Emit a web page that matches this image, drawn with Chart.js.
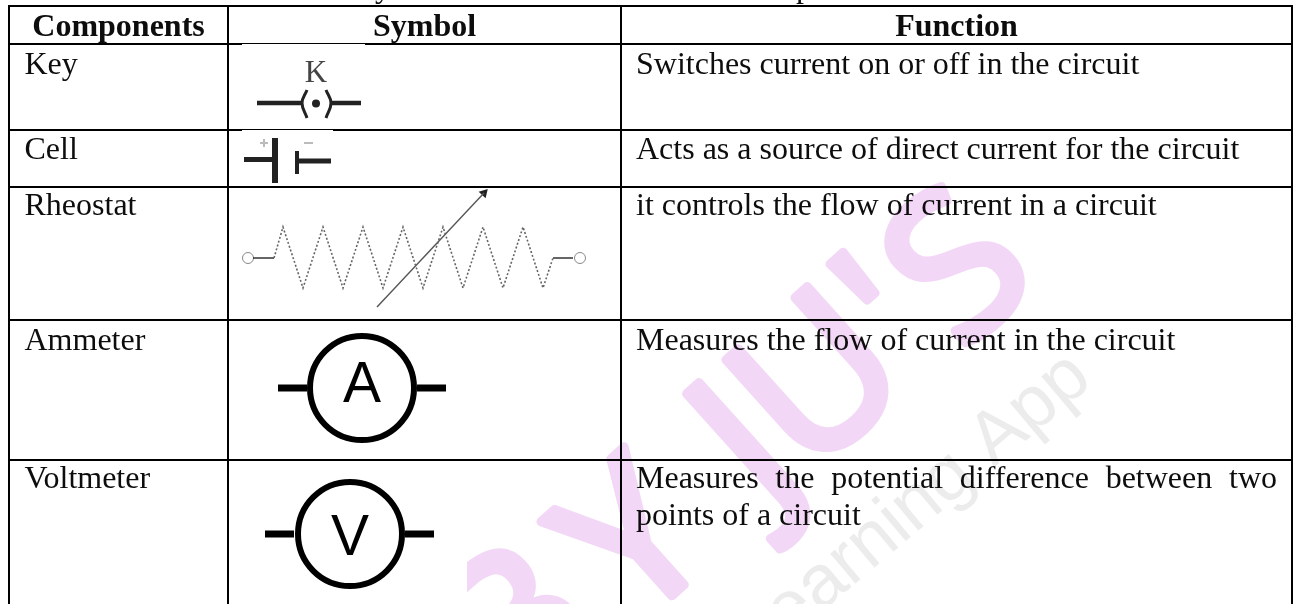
<!DOCTYPE html>
<html>
<head>
<meta charset="utf-8">
<style>
  html, body { margin: 0; padding: 0; background: #fff; overflow: hidden; }
  canvas { display: block; }
</style>
<script src="https://cdn.jsdelivr.net/npm/chart.js@4/dist/chart.umd.min.js"></script>
</head>
<body>
<canvas id="table" width="1293" height="604"></canvas>
<script>
const headers = ["Components", "Symbol", "Function"];
const components = ["Key", "Cell", "Rheostat", "Ammeter", "Voltmeter"];
const functions = [
  ["Switches current on or off in the circuit"],
  ["Acts as a source of direct current for the circuit"],
  ["it controls the flow of current in a circuit"],
  ["Measures the flow of current in the circuit"],
  ["Measures the potential difference between two", "points of a circuit"],
];
const columnEdges = [9, 228, 621, 1292];
const rowEdges = [6, 44, 130, 187, 320, 460];
const rowBaselines = [74, 159, 215, 350, 488];
const lineGap = 37;

// symbols, in table units
const keyWires = [[[257, 103], [302, 103]], [[332, 103], [361, 103]]];
const keyBrackets = [[[307, 90], [302, 103], [307, 118]], [[326, 90], [331, 103], [326, 118]]];
const keyDot = [316, 103.5];
const cellWires = [[[244, 159.5], [272, 159.5]], [[297, 161], [331, 161]]];
const cellPlates = [[[275, 138], [275, 183]], [[297, 151], [297, 174]]];
const cellSigns = [[[260, 143], [268, 143]], [[264, 139], [264, 147]], [[304, 143], [313, 143]]];
const rheostatZigzag = [[274, 258], [283, 227], [303, 288], [323, 227], [343, 288], [363, 227], [383, 288], [403, 227], [423, 288], [443, 227], [463, 288], [483, 227], [503, 288], [523, 227], [543, 288], [553, 258]];
const rheostatWires = [[[253, 258], [274, 258]], [[553, 258], [573, 258]]];
const rheostatEnds = [[248, 258], [580, 258]];
const rheostatArrow = [[377, 307], [484, 193]];
const meterCentres = [[362, 388], [350, 534]];
const meterLetters = ["A", "V"];
const meterWires = [[[278, 388], [307, 388]], [[417, 388], [446, 388]], [[265, 534], [294, 534]], [[405, 534], [434, 534]]];

// white boxes of the pasted symbol pictures
const symbolPatches = [[242, 44, 365, 129], [242, 130, 333, 186]];
const voltmeterPatch = [240, 461, 467, 604];

const topFragments = [["y", 375], ["p", 796]];
const watermarkLetters = ["B", "Y", "J", "U", "'", "S"];
const watermarkCentres = [[520, 635], [640, 548], [750, 452], [824, 387], [894, 322], [964, 274]];
const watermarkSub = "Learning App";

const ink = "#0d0d0d";
const serif = '"Liberation Serif", serif';

function line(points, color, width, order, extra) {
  return Object.assign({
    data: points.map(p => ({ x: p[0], y: p[1] })),
    borderColor: color,
    borderWidth: width,
    pointRadius: 0,
    order,
    fill: false,
  }, extra || {});
}

function box(r, order) {
  return line([[r[0], r[1]], [r[2], r[1]], [r[2], r[3]], [r[0], r[3]], [r[0], r[1]]], "#fff", 0, order, {
    fill: "shape",
    backgroundColor: "#fff",
  });
}

function ring(centre, radius, width, color) {
  return line([centre], color, 0, 1, {
    showLine: false,
    pointRadius: radius,
    pointBorderWidth: width,
    pointBorderColor: color,
    pointBackgroundColor: "rgba(0,0,0,0)",
  });
}

const datasets = [];
datasets.push(box(voltmeterPatch, 8));
columnEdges.forEach(x => datasets.push(line([[x, rowEdges[0] - 1], [x, 604]], "#000", 2, 6)));
rowEdges.forEach(y => datasets.push(line([[columnEdges[0] - 1, y], [1293, y]], "#000", 2, 6)));
symbolPatches.forEach(r => datasets.push(box(r, 5)));

keyWires.forEach(w => datasets.push(line(w, "#222", 4.5, 1)));
keyBrackets.forEach(b => datasets.push(line(b, "#222", 3, 1, { tension: 0.4 })));
datasets.push(line([keyDot], "#222", 0, 1, { showLine: false, pointRadius: 4, pointBackgroundColor: "#222" }));
cellWires.forEach(w => datasets.push(line(w, "#222", 5, 1)));
datasets.push(line(cellPlates[0], "#222", 6, 1));
datasets.push(line(cellPlates[1], "#222", 4, 1));
cellSigns.forEach(s => datasets.push(line(s, "#bbb", 2, 1)));

datasets.push(line(rheostatZigzag, "#666", 1.6, 1, { borderDash: [2, 2] }));
rheostatWires.forEach(w => datasets.push(line(w, "#333", 1.5, 1)));
rheostatEnds.forEach(c => datasets.push(ring(c, 5.5, 1, "#888")));
datasets.push(line(rheostatArrow, "#555", 1.4, 1));
datasets.push(line([rheostatArrow[1]], "#222", 0, 1, {
  showLine: false,
  pointStyle: "triangle",
  pointRadius: 5.5,
  pointRotation: 43,
  pointBackgroundColor: "#222",
}));

meterCentres.forEach(c => datasets.push(ring(c, 52, 6, "#000")));
meterWires.forEach(w => datasets.push(line(w, "#000", 7, 1)));

const tableText = {
  id: "tableText",
  beforeDatasetsDraw(chart) {
    const { ctx, scales: { x, y } } = chart;
    ctx.save();
    // watermark
    ctx.fillStyle = ctx.strokeStyle = "#f3d7f6";
    ctx.lineJoin = "round";
    ctx.lineWidth = 9;
    ctx.font = '200px "Open Sans"';
    ctx.textAlign = "center";
    ctx.textBaseline = "middle";
    watermarkLetters.forEach((letter, i) => {
      ctx.save();
      ctx.translate(x.getPixelForValue(watermarkCentres[i][0]), y.getPixelForValue(watermarkCentres[i][1]));
      ctx.rotate(-42 * Math.PI / 180);
      ctx.fillText(letter, 0, 0);
      ctx.strokeText(letter, 0, 0);
      ctx.restore();
    });
    ctx.save();
    ctx.translate(x.getPixelForValue(757), y.getPixelForValue(666));
    ctx.rotate(-40 * Math.PI / 180);
    ctx.font = '74px "Liberation Sans"';
    ctx.fillStyle = "#ececec";
    ctx.textAlign = "left";
    ctx.textBaseline = "alphabetic";
    ctx.fillText(watermarkSub, 0, 0);
    ctx.restore();
    ctx.restore();
  },
  afterDatasetsDraw(chart) {
    const { ctx, scales: { x, y } } = chart;
    ctx.save();
    ctx.fillStyle = ink;
    ctx.textBaseline = "alphabetic";

    ctx.font = "bold 32px " + serif;
    ctx.textAlign = "center";
    headers.forEach((h, i) => {
      const mid = (columnEdges[i] + columnEdges[i + 1]) / 2;
      ctx.fillText(h, x.getPixelForValue(mid), y.getPixelForValue(35.5));
    });

    ctx.font = "32px " + serif;
    ctx.textAlign = "left";
    topFragments.forEach(f => ctx.fillText(f[0], x.getPixelForValue(f[1]), y.getPixelForValue(-3)));
    components.forEach((c, i) => ctx.fillText(c, x.getPixelForValue(24.5), y.getPixelForValue(rowBaselines[i])));
    functions.forEach((lines, i) => {
      lines.forEach((text, j) => {
        const top = y.getPixelForValue(rowBaselines[i] + j * lineGap);
        const left = x.getPixelForValue(636);
        if (lines.length > 1 && j < lines.length - 1) {
          // justified line
          const words = text.split(" ");
          const used = words.reduce((sum, w) => sum + ctx.measureText(w).width, 0);
          const gap = (x.getPixelForValue(1277) - left - used) / (words.length - 1);
          let pos = left;
          words.forEach(w => {
            ctx.fillText(w, pos, top);
            pos += ctx.measureText(w).width + gap;
          });
        } else {
          ctx.fillText(text, left, top);
        }
      });
    });

    ctx.textAlign = "center";
    ctx.fillStyle = "#444";
    ctx.font = "31px " + serif;
    ctx.fillText("K", x.getPixelForValue(316), y.getPixelForValue(82));

    ctx.fillStyle = "#000";
    ctx.font = '57px "Liberation Sans"';
    meterLetters.forEach((m, i) => {
      ctx.fillText(m, x.getPixelForValue(meterCentres[i][0]), y.getPixelForValue(meterCentres[i][1] + 14 + i * 7));
    });
    ctx.restore();
  },
};

new Chart(document.getElementById("table").getContext("2d"), {
  type: "line",
  data: { datasets },
  options: {
    responsive: false,
    animation: false,
    layout: { padding: 0, autoPadding: false },
    plugins: { legend: { display: false }, tooltip: { enabled: false } },
    scales: {
      x: { type: "linear", min: 0, max: 1293, display: false },
      y: { type: "linear", min: 0, max: 604, reverse: true, display: false },
    },
  },
  plugins: [tableText],
});
</script>
</body>
</html>
